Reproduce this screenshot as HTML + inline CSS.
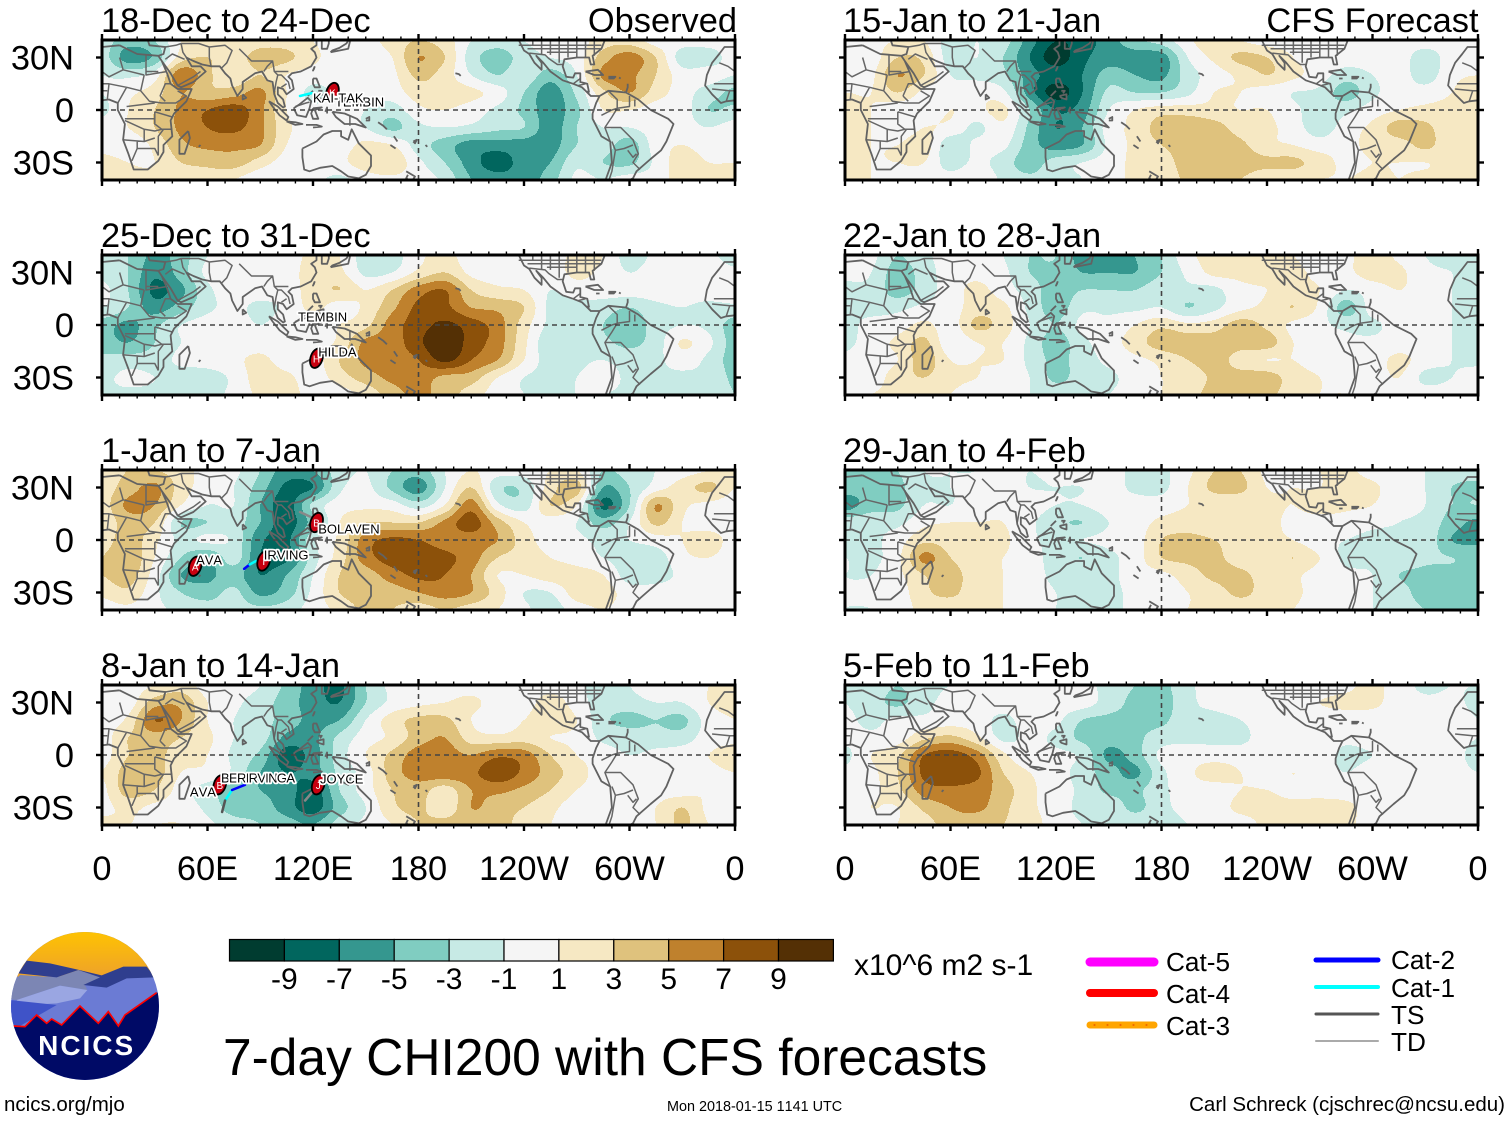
<!DOCTYPE html>
<html lang="en">
<head>
<meta charset="utf-8">
<title>7-day CHI200 with CFS forecasts</title>
<style>
html,body{margin:0;padding:0;background:#fff;}
#stage{display:block;width:1510px;height:1121px;}
text{font-family:"Liberation Sans",Arial,sans-serif;fill:#000;font-kerning:none;}
.axis{font-size:34.4px;}
.band{shape-rendering:crispEdges;}
.coast{fill:none;stroke:#626262;stroke-width:1.8;stroke-linejoin:round;}
.border{fill:none;stroke:#666;stroke-width:1.5;stroke-linejoin:round;}
.storm-label{font-size:13px;paint-order:stroke;stroke:#fff;stroke-width:3.5px;stroke-linejoin:round;}
</style>
</head>
<body>
<svg id="stage" xmlns="http://www.w3.org/2000/svg" width="1510" height="1121" viewBox="0 0 1510 1121">
<rect width="1510" height="1121" fill="#fff"/>
<g id="panels"></g>
<g id="colorbar"></g>
<text x="854" y="975" font-size="30">x10^6 m2 s-1</text>
<text x="223" y="1075" font-size="51.5">7-day CHI200 with CFS forecasts</text>

<g stroke-linecap="round">
<line x1="1090" x2="1154" y1="962" y2="962" stroke="#ff00ff" stroke-width="9"/>
<text x="1166" y="971" font-size="26.2">Cat-5</text>
<line x1="1090" x2="1154" y1="993" y2="993" stroke="#ff0000" stroke-width="8"/>
<text x="1166" y="1003" font-size="26.2">Cat-4</text>
<line x1="1090" x2="1154" y1="1025" y2="1025" stroke="#ffa500" stroke-width="7"/>
<line x1="1094" x2="1152" y1="1025" y2="1025" stroke="#e03000" stroke-width="1" stroke-dasharray="1 12"/>
<text x="1166" y="1035" font-size="26.2">Cat-3</text>
<line x1="1316" x2="1378" y1="960" y2="960" stroke="#0000ff" stroke-width="5"/>
<text x="1391" y="969" font-size="26.2">Cat-2</text>
<line x1="1316" x2="1378" y1="987" y2="987" stroke="#00ffff" stroke-width="4"/>
<text x="1391" y="997" font-size="26.2">Cat-1</text>
<line x1="1316" x2="1378" y1="1014" y2="1014" stroke="#555" stroke-width="3"/>
<text x="1391" y="1024" font-size="26.2">TS</text>
<line x1="1316" x2="1378" y1="1041" y2="1041" stroke="#aaa" stroke-width="2"/>
<text x="1391" y="1051" font-size="26.2">TD</text>
</g>

<g transform="translate(0,920) scale(0.3333)">
<clipPath id="logo-clip"><circle cx="255" cy="258" r="222"/></clipPath>
<linearGradient id="sun" x1="0" y1="0" x2="0" y2="1"><stop offset="0" stop-color="#ffc400"/><stop offset="1" stop-color="#eea22a"/></linearGradient>
<g clip-path="url(#logo-clip)">
<rect x="20" y="30" width="470" height="460" fill="#6b7bd4"/>
<rect x="20" y="30" width="470" height="140" fill="url(#sun)"/>
<polygon fill="#7c86b4" points="30,195 60,165 170,172 235,150 305,170 255,195 262,210 180,197 50,240 30,238"/>
<polygon fill="#2f3e8e" points="80,122 150,130 230,148 305,166 370,140 440,140 465,172 380,175 320,203 250,195 300,172 235,150 170,172 55,160"/>
<polygon fill="#9aa6e2" points="50,240 180,197 262,210 240,235 170,250 60,256"/>
<polygon fill="#3f53c8" points="30,240 170,255 60,318 30,318"/>
<polygon fill="#000a66" points="40,318 75,320 110,285 140,310 155,297 185,315 240,258 295,310 325,275 355,318 375,285 470,218 490,218 490,490 20,490 20,318"/>
<polyline fill="none" stroke="#ff0000" stroke-width="5" points="40,318 75,320 110,285 140,310 155,297 185,315 240,258 295,310 325,275 355,318 375,285 470,218"/>
</g>
<text x="260" y="405" text-anchor="middle" font-size="84" font-weight="bold" letter-spacing="6" style="fill:#fff">NCICS</text>
</g>
<text x="4" y="1111" font-size="20.5">ncics.org/mjo</text>
<text x="667" y="1111" font-size="14.4">Mon 2018-01-15 1141 UTC</text>
<text x="1505" y="1111" font-size="20.5" text-anchor="end">Carl Schreck (cjschrec@ncsu.edu)</text>
</svg>

<script>
// ---------- chart data: anomaly rows from 40N to 40S (10 deg), columns 0 to 360 (15 deg) ----------
const lonStep = 15;
const latStep = 10;
const field18Dec = [
[-2,-4,-3,1,2,1,2,2,1,0,0,2,3,2,-1,-2,-1,0,0,2,2,0,0,0,0],
[-2,-6,-4.5,2,3,2,4,3.5,1.5,0,0,1,5,3,-2,-4,-2,-1,0,4,6,3,-2,-2,0],
[-1,-1.5,0,6.5,3.5,1.5,3,1,0,0,0,0.5,3.5,2,-1,-3,-1.5,-4,-1,5.5,5.5,3,0,0,-1],
[-1,0.5,2,5,3.5,4,5.5,1,-1.5,-0.5,0,0,2,2,1.5,0,-3,-6,-2.5,2.5,5,2,0,-2,-3.5],
[-1.5,1,3,5.5,7,8,5.5,1,-0.5,-0.5,-1,-2,0.5,1,0,-1.5,-3.5,-6,-3.5,1,1,0,0,-3,-2.5],
[0,1,3,5.5,7,7.5,5.5,1.5,0,-0.5,-1,-3.5,-1.5,-1,-1.5,-2.5,-3,-6,-3,-1,-1,0,0,-1,0],
[0,-0.3,1.5,4.5,5.5,5.5,5,1,-0.5,0,1.5,1,-2,-4,-6,-6,-6,-6,-3,-2,-4,0,1,0,0],
[2,1,1,3,3.5,4,2,0,0,0.5,2,2.5,-0.5,-3,-6,-8,-6,-5,-1.5,-3,-3.5,-0.5,2,1,1],
[2,1.5,1.5,1.5,2,1,-0.5,-0.5,-0.5,-1.5,0,0.5,0,-1.5,-5,-6,-6,-4,-0.5,-1,0,0,2,2,2]
];
const field25Dec = [
[-2,-3,-5.5,-4,-1,0,0,0,1.5,1,-2,-2,0.5,1.5,0,0,0,0,1.5,1,-2,-0.5,0,-0.5,-2],
[-1.5,-3,-6.5,-4,-0.5,0,0,0,2,1.5,-1.5,-1,1.5,3,0.5,0,0,0,1.5,0.5,-1,0,0,0,-0.5],
[-0.5,-3,-7.5,-5.5,-1.5,0,0,0,2,3,1,3,6,7,3,1.5,1,-1,0,0,0,0,0,0,0.5],
[-1,-3,-6,-4,-1.5,-0.5,-1.5,-0.5,1.5,0,1.5,4.5,7.5,7.5,5,4.5,3,-1.5,-1.5,-2,-3,-1.5,-1,-1.5,-1.5],
[-4,-5.5,-3.5,-1,0,0,-1,0,0,1,2.5,6,8,9.5,8,6,2,-1.5,-1.5,-3,-4.5,-2,-1,-1.5,-4],
[-4,-5,-3,-1,0,0,0,0,0,1.5,5.5,6,8.5,11,8,6,1.5,-2.5,-1.5,-2.5,-3.5,-2,1.2,-0.5,-4],
[-2.5,-2,-2,-0.5,0,0.5,1.5,0,0,3,5.5,6,7,9.5,7,5,1,-2,-1.5,-1,-2,-1.5,0,-1.5,-4],
[-1.5,-0.5,-1,-2,-2,-0.5,2,1.5,0,2,4,5.5,6,4.5,4,1,-1,-1.5,-1,0,-1.5,-1.5,-1.5,-1.5,-3.5],
[-1.5,-1.5,-1.5,-1.5,-1.5,-0.5,1.5,2,0,0,1.5,4,5.5,4,2,0,-1,-1,-1,-1,-1.5,-1.5,-1.5,-1.5,-3]
];
const field1Jan = [
[2,3,3,2,0,-0.5,-3,-6,-5,-2,-1,-3,-4,-1,1,0,0,1,1,-3,-2,-1,0,1,2],
[2,4,5.5,2,0,-1,-4,-7.5,-7,-1.5,-0.5,-3.5,-6,-1,3,-2.5,-2.5,2,4,-5,-3,0,2,3.5,1],
[2,5.5,5,1,-1,-1,-5,-8,-2.5,0,0.5,0,-2,1,6,-0.5,-2,3,1,-7.5,-3,5,1.5,0.5,0],
[1.5,4,3,-3,-3,-2,-5,-8,-4,1,3,3,3,5.5,8,4,1,0,-1,-4,-1,3.5,1,0,0],
[2,4,1.5,-1.5,-0.5,-1.5,-6.5,-7.5,-1.5,1.5,6,7.5,7,6,6,5,2,0,-0.5,-1.5,-1,0,1,2,0],
[3,4.5,1,-3,-5,-2,-7,-7.5,-2,2,6,8,8,7.5,6,3,2,1,0,-1,-2,-2,0.5,1,0],
[3,4,0,-5,-5.5,-4,-7,-5,-1,3,4,6,7.5,7,5,1,1,2,2,1,-2,-2,-0.5,0,0],
[1.5,2.5,-0.5,-3,-4,-2.5,-5.5,-4,-0.5,3,4,4,5,6,5,2,-1,-1,2,2,0,0,0,0,0],
[0,0.5,-0.5,-1.5,-2,-2,-2.5,-2,0,1.5,3.5,3,2,3,2,1,-0.5,-2,0,1,0,0,0,0,0]
];
const field8Jan = [
[0,0,1,2,0,0,-1,-3.5,-6,-7.5,-3,-0.5,0,0,0,0,0,0,-0.5,-2,-1,1,0,1,1.5],
[0.5,0,4,4.5,1,-0.5,-2,-4,-6,-7,-3,-0.5,0.5,1,1.5,0,0,2,0,-2,-2,-1,-1,1,1.5],
[0,1.5,7,5,1,-1,-2,-4,-5.5,-5,-1,2,3.5,3.5,1,0,1,2.5,1,-2.5,-3.5,-3,-3.5,0,1],
[0,3,4,3,1.5,-1,-2,-5.5,-5.5,-2.5,0,1.5,4,5,2,1.5,2,1,0.5,-1.5,-2,-2,-2,0,0.5],
[0,3,3.5,2,1,-1.5,-3.5,-8,-6,-2,1,3.5,6,6,5,6.5,6,3,1,0,-1,-0.5,0,1,2],
[1,4,4,1,0.5,-1.5,-5,-7,-6,-2.5,0,4,6,6.5,6.5,8.5,6.5,4,2,0,0,0,0,0.5,1],
[0.5,4,3,0,-2,-4,-5,-6,-8,-3,0,3,4,2,5,5.5,4.5,3,1,0,-0.5,0,0,1,0],
[0.5,1.5,0.5,0,-1.5,-4,-4,-6,-8,-4,-1,2.5,3.5,1.5,5,4,3,1.5,0,-1,0,1,3,0.5,0],
[1.5,1,1,1,-0.5,-2,-3,-4,-5,-2,-0.5,1,3,4,4,4,2,1,0.5,0,0,1,3.5,1,0.5]
];
const field15Jan = [
[0,0.5,1,1,-2,-1,-2,-6,-9,-8,-6,-3.5,-2,0.5,2.5,1,0,0,0,0,0,0,0,0,1],
[0,0,3,2.5,-2,-1,-3,-7,-10,-7.5,-6,-6,-6,-1,1.5,3.5,3,1,0,0,0,0,-2,0,0.5],
[-1,0.5,5,3,-1,-1.5,-2.5,-6,-8,-7,-4,-5,-5.5,-2,0,1.5,3,1.5,0,-2,-1,0,-2,0.5,1],
[1,1,3,0.5,0,0.5,-0.5,-6,-10,-7,-2.5,-3,-3,-1.5,1,1,0,-1,-1.5,-4,-1.5,0,0,1,2],
[1.5,1,-0.5,0,1,0.5,1.5,-3,-7,-6,-1,1,2,2,1.5,1,1,-0.5,-2,-1.5,0,1,1.5,1.5,1.5],
[2,1,-0.5,1,0.5,-1.5,0.5,-3.5,-7,-5,0,1.5,4,4.5,4,2,1.5,0,-2,0,1.5,4,3.5,1.5,1.5],
[1.5,1,1,2,-2.5,-0.5,-0.5,-4,-6,-5,-0.5,1.5,3,4,4.5,3.5,1.5,1,0,0.5,1.5,2,3.5,1.5,1.5],
[1.5,1,1,1,-2,-0.5,-2,-4,-2,-1,0,1.5,2,4,4.5,4,3.5,3.5,2,0.5,1,1,1,1.5,1.5],
[1.5,1,0.5,0,0,1,-1.5,-2.5,-2,-1,0,1.5,1.5,3.5,3.5,3,1.5,1.5,1,1,1.5,1,1.5,1.5,1.5]
];
const field22Jan = [
[-1,-0.5,-3,-1.5,0,0,-1,-3,-3,-6,-6,-5,-3,0.5,1.5,1.5,1,1,0,0.5,2,0.5,-1,-1.5,-1.5],
[-0.5,-1,-4,-2,0,0.5,-0.5,-3,-3.5,-5,-5,-5,-3,-0.5,1.5,1.5,1.5,1.5,0.5,0.5,2,1.5,-0.5,-1,-1.5],
[-1.5,-1.5,-4,-2,0,1.5,0,-2,-4,-3,-3,-3,-1.5,-1.5,-1.5,0.5,1,1.5,1,-1,0,1,0,-1,-1.5],
[-1,-1.5,-1.5,-0.5,0,2,1.5,-1.5,-4,-1.5,-1.5,-1.5,-1,-3,-1.5,0.5,1.5,3,0.5,-4,0,0,0,-1,-1.5],
[-1.5,-0.5,0,1.5,0,3.5,2,-1,-3,-0.5,-0.5,1,2.5,1.5,2,4,2.5,0.5,-0.5,-1.5,-1.5,0,0,-1,-1.5],
[-1.5,0,1.5,3.5,-0.5,1,1,-1.5,-4,-1.5,0,2,4,4,4,4,4,1,0,-0.5,-0.5,0,0,-1,-1.5],
[-0.5,0,1,4,1,1,1,-1.5,-3.5,-2,-0.5,0.5,1.5,3,4,2,1,1,0,0,0,1.5,0,-1,-1.5],
[0,0,2,3,1.5,1,0,-1,-3.5,-2,-1.5,0,1,1.5,3.5,4,4,2,1,0,0,1,-1.5,-1,0],
[0,1,1.5,1.5,1,0,0,-1,-1.5,-1.5,-1,0,1,2,4,4,3.5,2,1,1,0,0,0,0,0]
];
const field29Jan = [
[-3,-3,-3,-1,-1,-1,-0.5,-1,-0.5,0,0,-1.5,-1.5,0.5,3,3,0.5,0.5,1,1.5,0,-0.5,-1,-2,-2],
[-4,-4,-3.5,-1.5,-1,-0.5,0,-1,-1,-1,0,-1.5,-1.5,1,3.5,3.5,1,1,1,2,1.5,-0.5,-1,-3,-3.5],
[-6,-4,-3.5,-1,-1,0.5,0.5,0,-1,-1,0,0,0,1,1.5,1.5,1.5,1,2,1.5,1,-0.5,-1,-3,-3],
[-2,-1.5,-1.5,0.5,1,1,1,-0.5,-2.5,-3,-1,0,1.5,2,1.5,1.5,1.5,0.5,0,0,-0.5,-1,-1.5,-4,-5.5],
[-2,-1.5,0,2.5,2,3,1.5,-0.5,-1.5,-1,-0.5,0,3,3.5,3,2,1.5,1,-0.5,-1,-1.5,-1.5,-1.5,-5,-5.5],
[-1,-1.5,0.5,5.5,3,1.5,1,0,-2,-3,-1.5,0,3,3.5,3.5,2,1.5,3,1,-1.5,-1.5,-1.5,-2.5,-3,-3.5],
[-1,-1,0.5,3,4,1.5,1,0,-1.5,-1.5,-1.5,0,0.5,2,3.5,3.5,2,1.5,0,-0.5,-1,-3,-3.5,-3.5,-3.5],
[-1,-0.5,0,2.5,3.5,1.5,1,0,-1,-1.5,-1.5,-0.5,0,1,2,3.5,2,1.5,0,-0.5,-1,-2,-4,-3.5,-3.5],
[-1,-1,0,1.5,1.5,1.5,1,0,-1,-1.5,-1.5,-0.5,0,1,1,1.5,1.5,1,0,0,-1,-1.5,-3,-3,-3]
];
const field5Feb = [
[-1,-1.5,-3,-1.5,-1,-1,-0.5,0,0,0,-2,-3,-3.5,-1.5,0,0,0,0,0,0.5,1.5,0,-1.5,-1,-1],
[-1,-2,-3.5,-1.5,-0.5,0,0,0,0,0,-2,-3.5,-4,-1.5,-0.5,0,0,0,1,1.5,1.5,0,-0.5,-0.5,-1.5],
[-0.5,-1.5,-0.5,-0.5,0,0,-1.5,0,-0.5,-3,-3.5,-3.5,-3.5,-1.5,-1.5,-1,0,0,0,0,0,0,0,0,-1],
[-0.5,-0.5,0,2.5,3.5,1.5,-1.5,-0.5,-1.5,-3.5,-4,-3.5,-2,-1.5,-1.5,-1.5,0,0,0,-0.5,0,0,0,0,-1],
[-1.5,1,2.5,7,8,6,1.5,-0.5,-0.5,-1.5,-5.5,-4,-0.5,0,0,0,0,0,0,-1.5,-1,0,0,0,-2],
[-0.5,0.5,3,7.5,8.5,7.5,3,1,0,-2,-4,-5.5,-1.5,0.5,2,1,0,1,0,-1,0,0,0,0,-1],
[0,0.5,2.5,6,6.5,6,4,1.5,0,-1.5,-3.5,-3.5,-1.5,0,0,1,1,0.5,0.5,0,0,0,0,0,0],
[0,1,1,3.5,5,5.5,3.5,1.5,0,-1.5,-1.5,-3.5,-1.5,-0.5,0,1.5,1.5,1.5,1.5,1.5,0,0,0,0,0],
[0,0,1,2,4,3.5,3,2,0,-1,-1.5,-1.5,-1.5,-1,0,0,1.5,1.5,1.5,1.5,0,0,0,0,0]
];
const panelFields = [field18Dec,field25Dec,field1Jan,field8Jan,field15Jan,field22Jan,field29Jan,field5Feb];
const panelTitles = ["18-Dec to 24-Dec","25-Dec to 31-Dec","1-Jan to 7-Jan","8-Jan to 14-Jan","15-Jan to 21-Jan","22-Jan to 28-Jan","29-Jan to 4-Feb","5-Feb to 11-Feb"];
const panelNotes = ["Observed","","","","CFS Forecast","","",""];
const levelBreaks = [-9,-7,-5,-3,-1,1,3,5,7,9];
const levelColors = ["#003c30","#01665e","#35978f","#80cdc1","#c7eae5","#f5f5f5","#f6e8c3","#dfc27d","#bf812d","#8c510a","#543005"];
const lonTickValues = [0,60,120,180,240,300,360];
const lonTickLabels = ["0","60E","120E","180","120W","60W","0"];
const latTickValues = [30,0,-30];
const latTickLabels = ["30N","0","30S"];
// storms: panel index, name, marker lon/lat, label lon/lat
const stormPanels = [0,0,1,1,2,2,2,3,3,3];
const stormNames = ["TEMBIN","KAI-TAK","TEMBIN","HILDA","AVA","IRVING","BOLAVEN","BERIRVINGA","AVA","JOYCE"];
const stormLons = [null,131,null,122,53,92,122,67,null,123];
const stormLats = [null,10,null,-19,-15,-12,10,-17,null,-17];
const stormLabelLons = [132.5,120,111.5,123,53.5,92,123,67.7,50,124];
const stormLabelLats = [4.6,6.9,4.6,-15.4,-11.4,-8.6,6.3,-13,-21,-13.7];
// storm tracks: panel, colour category, lon/lat vertices
const trackPanels = [0,2,2,2,3,3,3,3];
const trackColors = ["#00ffff","#0000ff","#00ffff","#888888","#00ffff","#0000ff","#555555","#888888"];
const trackLons = [[112.6,119.5],[80.8,84],[84,87.6],[112.6,120],[70,74],[74,81.3],[70,68.3],[115.5,120.6]];
const trackLats = [[8,9.7],[-16.5,-14],[-14,-12],[16,12.6],[-26,-20],[-20,-17],[-26,-32.6],[-26,-20]];
// geography: lon,lat vertices
const coastLines = [
[[10,37],[20,32],[32,31],[34,28],[37,21],[39,15],[43,12],[51,12],[48,5],[41,-2],[39,-6],[40,-15],[35,-20],[35,-24],[32,-29],[26,-34],[18,-34],[15,-25],[12,-17],[13,-8],[9,0],[9,4],[4,6],[-5,5],[-8,4],[-13,9],[-17,14],[-16,20],[-13,27],[-9,32],[-6,36],[0,36],[10,37]],
[[26,40],[27,37],[36,36],[35,32],[32,31]],
[[34,28],[39,21],[43,14],[45,13],[52,16],[59,22],[56,25],[51,25],[48,30],[52,28],[57,26],[62,25],[67,25],[70,21],[73,18],[74,14],[77,8],[80,12],[80,16],[87,21],[91,22],[94,17],[97,16],[98,9],[100,4],[103,1.5],[104,2],[103,6],[100,9],[100,13],[103,12],[105,9],[109,12],[108,17],[106,19],[108,21],[113,22],[119,25],[122,30],[121,33],[119,35],[122,37],[122,40]],
[[125,40],[125,35],[128,35],[129,38],[129,40]],
[[130,33],[135,34],[140,35],[141,39],[141,41],[139,38],[135,35.5],[131,34],[130,33]],
[[80,9],[82,7],[80,6],[80,9]],
[[95,5],[100,2],[106,-4],[105,-6],[101,-3],[97,2],[95,5]],
[[105,-6.5],[110,-7],[114,-8],[110,-8.5],[105,-6.5]],
[[116,-8.5],[122,-8.5],[125,-9.5],[120,-10]],
[[109,1],[112,3],[117,7],[119,5],[118,1],[116,-4],[111,-3],[109,1]],
[[120,1],[125,1.5],[121,0],[123,-5],[120,-5],[119,-2],[120,1]],
[[131,-1],[138,-2],[145,-5],[150,-10],[144,-8],[138,-8],[133,-4],[131,-1]],
[[150,-5],[152,-4],[152,-6],[150,-6]],
[[120,18],[122,18],[124,13],[121,13],[120,15],[120,18]],
[[122,8],[126,9],[126,6],[123,7],[122,8]],
[[117,8],[120,11]],
[[123,11],[125,11],[124,9.5]],
[[121,25],[120,22.5],[120.5,23.5],[121,25]],
[[127,-1],[128,1.5],[128,-2]],
[[114,-22],[122,-18],[126,-14],[131,-12],[136,-12],[136,-15],[140,-17],[142,-11],[146,-19],[153,-26],[153,-32],[150,-37],[146,-39],[140,-38],[136,-35],[131,-32],[124,-33],[118,-35],[115,-34],[114,-27],[114,-22]],
[[49,-12],[50,-16],[47,-25],[44,-25],[44,-17],[49,-12]],
[[173,-35],[178,-38],[176,-41],[173,-39],[174,-37]],
[[157,-7],[160,-9],[162,-11]],
[[166,-15],[168,-18]],
[[164,-20],[167,-22]],
[[177,-18],[179,-17],[178,-19],[177,-18]],
[[201,21],[203,20.5],[204,19.5]],
[[184,-20],[185,-21]],
[[55,-21],[56,-20]],
[[237,40],[240,34],[243,32],[246,27],[250,23],[250,27],[247,31],[251,27],[255,22],[262,17],[268,15],[273,13],[276,10],[278,8],[283,8]],
[[277,10],[276,15],[272,16],[272,21],[269,21],[268,18.5],[264,19],[262,25],[263,29],[270,30],[277,30],[278,26],[280,26],[279,31],[284,35],[286,40]],
[[275,22],[282,23],[285,20],[280,20],[275,22]],
[[288,19],[292,19],[291,18],[288,18]],
[[281,18],[283,18]],
[[295,18],[294,18.5]],
[[299,15],[299,13],[298,10]],
[[283,8],[288,11],[298,10],[305,6],[312,0],[322,-5],[325,-8],[321,-18],[318,-23],[312,-28],[304,-35],[302,-39],[298,-41]],
[[283,8],[281,4],[279,-2],[279,-5],[284,-15],[289,-18],[290,-30],[286,-41]]
];
const borderLines = [
[[25,32],[25,20],[37,22]],[[25,22],[32,22]],[[24,20],[22,11],[27,5],[34,4],[42,4],[48,8],[43,11]],[[33,8],[36,15],[39,15]],[[36,5],[33,8]],
[[10,30],[12,23],[24,20]],[[-9,27],[-4,25],[4,19],[12,23]],[[-12,15],[4,15],[14,13],[22,11]],[[4,15],[3,6]],[[14,13],[9,4]],[[-5,5],[-3,11]],[[-13,12],[-3,11],[3,11]],
[[13,-5],[30,-5]],[[14,2],[30,4]],[[30,-1],[40,-4]],[[34,-11],[30,-8],[30,-1]],[[12,-17],[24,-18],[24,-11],[13,-6]],[[24,-11],[30,-12],[34,-11],[40,-11]],[[35,-11],[32,-15],[32,-26]],[[17,-29],[20,-22],[30,-22],[32,-26]],[[24,-18],[30,-16]],[[20,-22],[20,-18]],
[[36,29],[40,32],[47,29]],[[45,38],[46,33],[48,30]],[[43,14],[52,19],[56,22]],[[36,36],[42,37],[45,38]],[[61,36],[61,30],[62,25]],[[61,36],[70,37],[74,34],[71,27],[68,24]],[[45,38],[55,38],[61,36]],
[[78,35],[85,28],[92,28],[97,28],[98,22],[102,22],[106,22]],[[98,10],[99,16],[100,20],[102,20],[106,16],[107,12]],[[92,22],[94,25],[97,28]],[[100,20],[98,22]],[[102,13],[105,15]],
[[110,2],[116,4],[118,4.5]],[[141,-3],[141,-9]],
[[237,37],[250,37],[264,37],[270,37],[284,37]],[[243,32.5],[252,31.5],[254,29.5],[259,26],[262.5,26]],[[245,37],[245,40]],[[250,31.5],[250,40]],[[255,31.5],[255,40]],[[260,27],[260,40]],[[265,30],[265,40]],[[270,30],[270,40]],[[275,30],[275,40]],[[280,31],[280,40]],[[242,35],[245,35],[265,35],[284,35]],[[253,33],[270,33]],
[[272,18],[268,15]],[[271,14],[275,15]],[[277,9],[276,11]],
[[288,11],[293,6],[293,1],[290,0],[284,-3]],[[300,8],[300,2],[293,1]],[[303,6],[303,2]],[[290,-4],[286,-10],[289,-18]],[[286,-10],[295,-10],[302,-17],[305,-25],[302,-30],[306,-34]],[[290,-18],[292,-23],[290,-35],[288,-41]],[[292,-23],[297,-22],[302,-20]],[[299,-23],[302,-27],[304,-25]],[[290,-4],[293,1]]
];
</script>
<script>
const SVGNS = "http://www.w3.org/2000/svg";
const panelsRoot = document.getElementById("panels");
const PANEL_W = 633, PANEL_H = 140;
const panelLefts = [102,102,102,102,845,845,845,845];
const panelTops = [40,255,470,685,40,255,470,685];

function make(tag, attrs, parent){
  const el = document.createElementNS(SVGNS, tag);
  for (const k in attrs) el.setAttribute(k, attrs[k]);
  parent.appendChild(el);
  return el;
}
function lonToX(lon, i){ return panelLefts[i] + lon * PANEL_W / 360; }
function latToY(lat, i){ return panelTops[i] + (40 - lat) * PANEL_H / 80; }
function catmull(a,b,c,d,t){
  return 0.5*((2*b)+(c-a)*t+(2*a-5*b+4*c-d)*t*t+(3*b-a-3*c+d)*t*t*t);
}
function sample(f, lon, lat){
  const u = lon / lonStep, v = (40 - lat) / latStep;
  const iu = Math.min(Math.floor(u), f[0].length-2), iv = Math.min(Math.floor(v), f.length-2);
  const tu = u-iu, tv = v-iv;
  const vals = [];
  for (let r=-1;r<=2;r++){
    const row = f[Math.max(0,Math.min(f.length-1,iv+r))];
    const g = c => row[Math.max(0,Math.min(row.length-1,c))];
    vals.push(catmull(g(iu-1),g(iu),g(iu+1),g(iu+2),tu));
  }
  return catmull(vals[0],vals[1],vals[2],vals[3],tv);
}
function bandIndex(v){
  let k = 0;
  while (k < levelBreaks.length && v >= levelBreaks[k]) k++;
  return k;
}
function polyPath(lines, offset, i){
  let d = "";
  lines.forEach(line => {
    line.forEach((p,n) => {
      d += (n?"L":"M") + lonToX(p[0]+offset,i).toFixed(1) + " " + latToY(p[1],i).toFixed(1);
    });
  });
  return d;
}

panelFields.forEach((field, i) => {
  const g = make("g", {}, panelsRoot);
  
  
  const left = panelLefts[i], top = panelTops[i];
  const clipId = "clip" + i;
  const clip = make("clipPath", {id: clipId}, g);
  make("rect", {x:left, y:top, width:PANEL_W, height:PANEL_H}, clip);

  // filled contour bands, drawn from the field through the axis functions
  const paths = levelColors.map(() => []);
  for (let py = 0; py < PANEL_H; py++) {
    const lat = 40 - (py + 0.5) * 80 / PANEL_H;
    let runStart = 0, cur = -1;
    for (let px = 0; px <= PANEL_W; px++) {
      const lon = (px + 0.5) * 360 / PANEL_W;
      const b = px < PANEL_W ? bandIndex(sample(field, Math.min(lon,360), lat)) : -2;
      if (b !== cur) {
        if (cur >= 0) paths[cur].push("M"+(left+runStart)+" "+(top+py)+"h"+(px-runStart)+"v1h"+(runStart-px)+"z");
        cur = b; runStart = px;
      }
    }
  }
  paths.forEach((p, k) => {
    if (!p.length) return;
    const band = make("path", {d:p.join(""), fill:levelColors[k], class:"band"}, g);
    
    
  });

  // geography
  const geo = make("g", {"clip-path":"url(#"+clipId+")"}, g);
  
  
  const borders = make("path", {d:polyPath(borderLines,0,i)+polyPath(borderLines,360,i), class:"border"}, geo);
  
  
  const coast = make("path", {d:polyPath(coastLines,0,i)+polyPath(coastLines,360,i), class:"coast"}, geo);
  
  

  // reference lines
  const eq = make("line", {x1:left, x2:left+PANEL_W, y1:latToY(0,i), y2:latToY(0,i), stroke:"#444", "stroke-width":1.6, "stroke-dasharray":"5 4"}, g);
  
  
  const dl = make("line", {x1:lonToX(180,i), x2:lonToX(180,i), y1:top, y2:top+PANEL_H, stroke:"#444", "stroke-width":1.6, "stroke-dasharray":"5 4"}, g);
  
  

  // frame and ticks
  const frame = make("rect", {x:left, y:top, width:PANEL_W, height:PANEL_H, fill:"none", stroke:"#000", "stroke-width":3}, g);
  
  
  for (let lon = 0; lon <= 360; lon += 10) {
    const major = lonTickValues.indexOf(lon) >= 0;
    const len = major ? 6 : 3.5, x = lonToX(lon,i);
    [[top-len,top],[top+PANEL_H,top+PANEL_H+len]].forEach(s => {
      const t = make("line", {x1:x, x2:x, y1:s[0], y2:s[1], stroke:"#000", "stroke-width":major?2.4:1.4}, g);
      
      
    });
  }
  latTickValues.forEach(lat => {
    const y = latToY(lat,i);
    [[left-6,left],[left+PANEL_W,left+PANEL_W+6]].forEach(s => {
      const t = make("line", {x1:s[0], x2:s[1], y1:y, y2:y, stroke:"#000", "stroke-width":2.4}, g);
      
      
    });
  });

  // titles
  const title = make("text", {x:left-(i<4?1:2), y:top-8, "font-size":34.4}, g);
  
  
  title.textContent = panelTitles[i];
  if (panelNotes[i]) {
    const note = make("text", {x:left+PANEL_W+(i<4?2:0.5), y:top-8, "font-size":34.4, "text-anchor":"end"}, g);
    
    
    note.textContent = panelNotes[i];
  }

  // latitude labels (left column only)
  if (i < 4) {
    latTickValues.forEach((lat, n) => {
      const lab = make("text", {x:74, y:latToY(lat,i)+12, class:"axis", "text-anchor":"end"}, g);
      
      
      lab.textContent = latTickLabels[n];
    });
  }
  // longitude labels (bottom row only)
  if (i === 3 || i === 7) {
    lonTickValues.forEach((lon, n) => {
      const lab = make("text", {x:lonToX(lon,i), y:880, class:"axis", "text-anchor":"middle"}, g);
      
      
      lab.textContent = lonTickLabels[n];
    });
  }
});

// storm tracks, markers and labels
const panelGroups = panelsRoot.children;
trackPanels.forEach((p, n) => {
  const pts = trackLons[n].map((lon, k) => lonToX(lon,p).toFixed(1)+","+latToY(trackLats[n][k],p).toFixed(1)).join(" ");
  const line = make("polyline", {points:pts, fill:"none", stroke:trackColors[n], "stroke-width":2.5, "stroke-linecap":"round"}, panelGroups[p]);
  
  
});
stormNames.forEach((name, n) => {
  const p = stormPanels[n];
  if (stormLons[n] !== null) {
    const cx = lonToX(stormLons[n],p), cy = latToY(stormLats[n],p);
    const mark = make("ellipse", {cx:cx, cy:cy, rx:6, ry:10, fill:"#c8000f", stroke:"#000", "stroke-width":1.8, transform:"rotate(18 "+cx+" "+cy+")"}, panelGroups[p]);
    
    
    const letter = make("text", {x:cx, y:cy+4, "font-size":10, "text-anchor":"middle", style:"fill:#fff"}, panelGroups[p]);
    
    
    letter.textContent = name[0];
  }
});
stormNames.forEach((name, n) => {
  const p = stormPanels[n];
  const lab = make("text", {x:lonToX(stormLabelLons[n],p), y:latToY(stormLabelLats[n],p)+4.5, class:"storm-label"}, panelGroups[p]);
  
  
  if (name.length > 8) lab.setAttribute('textLength', '74');
  lab.textContent = name;
});

// colorbar
const cbRoot = document.getElementById("colorbar");
const CB_X = 229.5, CB_W = 54.9, CB_Y = 939.5, CB_H = 21.5;
levelColors.forEach((color, k) => {
  const box = make("rect", {x:CB_X+k*CB_W, y:CB_Y, width:CB_W, height:CB_H, fill:color, stroke:"#000", "stroke-width":1.2}, cbRoot);
  
  
});
levelBreaks.forEach((value, k) => {
  const lab = make("text", {x:CB_X+(k+1)*CB_W, y:989, "font-size":30, "text-anchor":"middle"}, cbRoot);
  
  
  lab.textContent = String(value);
});
</script>
</body>
</html>
